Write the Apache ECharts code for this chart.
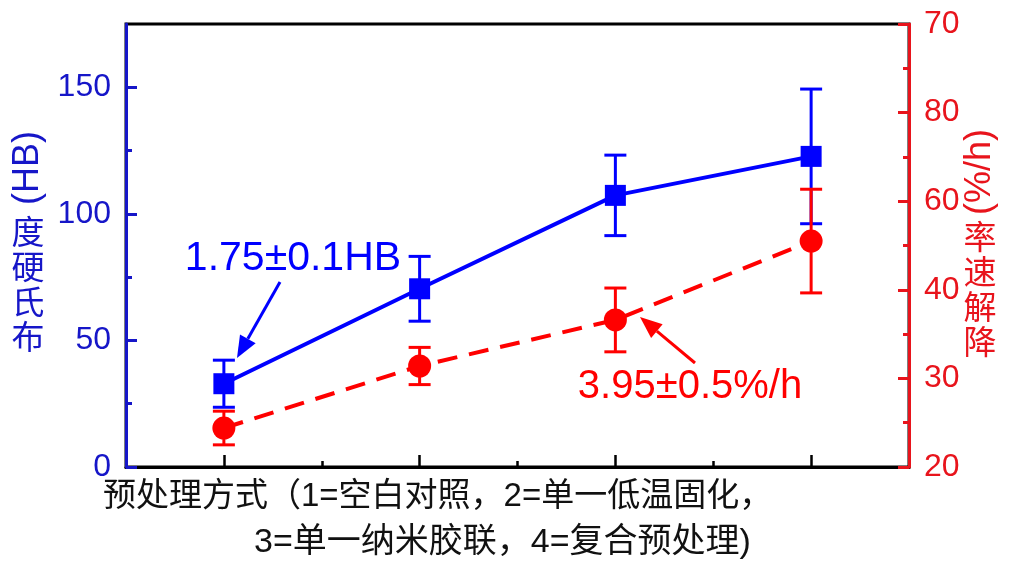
<!DOCTYPE html>
<html>
<head>
<meta charset="utf-8">
<script src="https://cdn.jsdelivr.net/npm/echarts@6/dist/echarts.min.js"></script>
<style>
html,body{margin:0;padding:0;background:#fff;}
#chart{width:1011px;height:566px;}
</style>
</head>
<body>
<div id="chart"></div>
<script>
// ---- data ----
const categories = [1, 2, 3, 4];
const hardness = [32.9, 70.4, 107.3, 122.7];
const hardnessErr = [9.3, 12.8, 15.9, 26.6];
const degradation = [24.4, 31.4, 36.6, 45.5];
const degradationErr = [1.9, 2.1, 3.6, 5.85];
const leftTickValues = [0, 50, 100, 150];
const leftMinorValues = [25, 75, 125];
const rightTickValues = [20, 30, 40, 50, 60, 70];
const rightTickLabels = ['20', '30', '40', '60', '80', '70'];
const xMajorValues = [1, 2, 3, 4];
const xMinorValues = [1.5, 2.5, 3.5];

const BLUE = '#0000ff';
const BLUE_AX = '#1616c8';
const RED = '#ff0000';
const RED_AX = '#e8141c';
const FONT = "'Liberation Sans', 'Noto Sans CJK SC', sans-serif";

const chart = echarts.init(document.getElementById('chart'), null, {renderer: 'canvas'});

function errorBar(color) {
  return function (params, api) {
    const x = api.value(0), y = api.value(1), e = api.value(2);
    const t = api.coord([x, y + e]);
    const b = api.coord([x, y - e]);
    const hw = 11;
    const st = {stroke: color, lineWidth: 3};
    return {
      type: 'group',
      children: [
        {type: 'line', shape: {x1: t[0], y1: t[1], x2: b[0], y2: b[1]}, style: st},
        {type: 'line', shape: {x1: t[0] - hw, y1: t[1], x2: t[0] + hw, y2: t[1]}, style: st},
        {type: 'line', shape: {x1: b[0] - hw, y1: b[1], x2: b[0] + hw, y2: b[1]}, style: st}
      ]
    };
  };
}

function arrow(x1, y1, x2, y2, color) {
  const dx = x2 - x1, dy = y2 - y1;
  const len = Math.sqrt(dx * dx + dy * dy);
  const ux = dx / len, uy = dy / len;
  const hl = 22, hw = 9;
  const bx = x2 - hl * ux, by = y2 - hl * uy;
  const nx = -uy, ny = ux;
  return [
    {type: 'line', shape: {x1: x1, y1: y1, x2: bx, y2: by}, style: {stroke: color, lineWidth: 3}},
    {type: 'polygon', shape: {points: [[x2, y2], [bx + hw * nx, by + hw * ny], [bx - hw * nx, by - hw * ny]]}, style: {fill: color}}
  ];
}

const option = {
  backgroundColor: '#fff',
  animation: false,
  grid: {left: 126, right: 102, top: 24, bottom: 99, show: true, borderColor: '#000', borderWidth: 3, backgroundColor: 'transparent'},
  xAxis: [
    {
      type: 'value', min: 0.5, max: 4.5, position: 'bottom', z: 2,
      axisLine: {show: true, lineStyle: {color: '#000', width: 3}},
      axisTick: {show: true, inside: true, length: 12, customValues: xMajorValues, lineStyle: {color: '#000', width: 2.5}},
      axisLabel: {show: false},
      splitLine: {show: false}
    },
    {
      type: 'value', min: 0.5, max: 4.5, position: 'bottom', z: 2,
      axisLine: {show: false},
      axisTick: {show: true, inside: true, length: 6, customValues: xMinorValues, lineStyle: {color: '#000', width: 2.5}},
      axisLabel: {show: false},
      splitLine: {show: false}
    }
  ],
  yAxis: [
    {
      type: 'value', min: 0, max: 175, position: 'left', z: 4,
      axisLine: {show: true, lineStyle: {color: BLUE_AX, width: 3}},
      axisTick: {show: true, inside: true, length: 11, customValues: leftTickValues, lineStyle: {color: BLUE_AX, width: 3}},
      axisLabel: {show: true, customValues: leftTickValues, color: BLUE_AX, fontSize: 32, fontFamily: FONT, margin: 15},
      splitLine: {show: false}
    },
    {
      type: 'value', min: 0, max: 175, position: 'left', z: 4,
      axisLine: {show: false},
      axisTick: {show: true, inside: true, length: 6, customValues: leftMinorValues, lineStyle: {color: BLUE_AX, width: 3}},
      axisLabel: {show: false},
      splitLine: {show: false}
    },
    {
      type: 'value', min: 20, max: 70, interval: 10, position: 'right', z: 4,
      axisLine: {show: true, lineStyle: {color: RED_AX, width: 3}},
      axisTick: {show: true, inside: true, length: 11, lineStyle: {color: RED_AX, width: 3}},
      minorTick: {show: true, splitNumber: 2, length: 6, lineStyle: {color: RED_AX, width: 3}},
      axisLabel: {
        show: true, color: RED_AX, fontSize: 32, fontFamily: FONT, margin: 15,
        formatter: function (v) { const i = rightTickValues.indexOf(v); return i >= 0 ? rightTickLabels[i] : ''; }
      },
      splitLine: {show: false}
    }
  ],
  series: [
    {
      type: 'custom', xAxisIndex: 0, yAxisIndex: 0, z: 3,
      renderItem: errorBar(BLUE),
      data: categories.map((c, i) => [c, hardness[i], hardnessErr[i]])
    },
    {
      type: 'line', xAxisIndex: 0, yAxisIndex: 0, z: 4,
      symbol: 'rect', symbolSize: 21,
      itemStyle: {color: BLUE},
      lineStyle: {color: BLUE, width: 4},
      data: categories.map((c, i) => [c, hardness[i]])
    },
    {
      type: 'custom', xAxisIndex: 0, yAxisIndex: 2, z: 5,
      renderItem: errorBar(RED),
      data: categories.map((c, i) => [c, degradation[i], degradationErr[i]])
    },
    {
      type: 'line', xAxisIndex: 0, yAxisIndex: 2, z: 6,
      symbol: 'circle', symbolSize: 23,
      itemStyle: {color: RED},
      lineStyle: {color: RED, width: 4, type: [20, 12]},
      data: categories.map((c, i) => [c, degradation[i]])
    }
  ],
  graphic: [
    // left axis title
    {type: 'text', x: 28, y: 168, rotation: Math.PI / 2,
      style: {text: '(HB)', font: "36px 'Liberation Sans', sans-serif", fill: BLUE_AX, align: 'center', verticalAlign: 'middle'}},
    {type: 'text', x: 28, y: 214,
      style: {text: '度\n硬\n氏\n布', font: "33px 'Noto Sans CJK SC', sans-serif", lineHeight: 35, fill: BLUE_AX, align: 'center', verticalAlign: 'top'}},
    // right axis title
    {type: 'text', x: 980, y: 172, rotation: Math.PI / 2,
      style: {text: '(%/h)', font: "36px 'Liberation Sans', sans-serif", fill: RED_AX, align: 'center', verticalAlign: 'middle'}},
    {type: 'text', x: 980, y: 219,
      style: {text: '率\n速\n解\n降', font: "33px 'Noto Sans CJK SC', sans-serif", lineHeight: 35, fill: RED_AX, align: 'center', verticalAlign: 'top'}},
    // x axis title
    {type: 'text', x: 103, y: 497,
      style: {text: '预处理方式（1=空白对照，2=单一低温固化，', font: "33px 'Liberation Sans', 'Noto Sans CJK SC', sans-serif", fill: '#111', align: 'left', verticalAlign: 'middle'}},
    {type: 'text', x: 254, y: 543,
      style: {text: '3=单一纳米胶联，4=复合预处理)', font: "34px 'Liberation Sans', 'Noto Sans CJK SC', sans-serif", fill: '#111', align: 'left', verticalAlign: 'middle'}},
    // annotations
    {type: 'text', x: 293, y: 259,
      style: {text: '1.75±0.1HB', font: "41px 'Liberation Sans', sans-serif", fill: BLUE, align: 'center', verticalAlign: 'middle'}},
    ...arrow(280, 282, 237, 358, BLUE),
    {type: 'text', x: 690, y: 387,
      style: {text: '3.95±0.5%/h', font: "40px 'Liberation Sans', sans-serif", fill: RED, align: 'center', verticalAlign: 'middle'}},
    ...arrow(695, 363, 640, 317, RED)
  ]
};
chart.setOption(option);
</script>
</body>
</html>
